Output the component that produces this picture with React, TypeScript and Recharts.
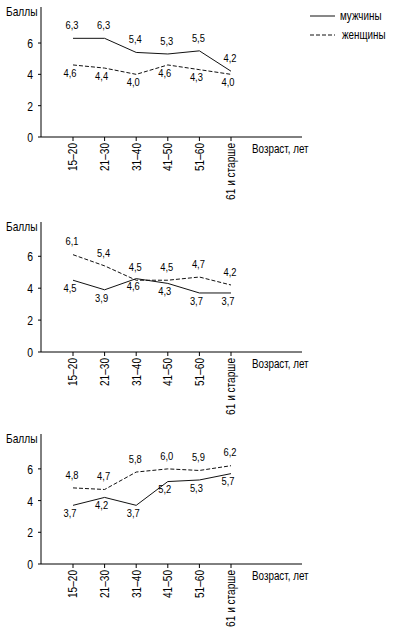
import { LineChart, Line, XAxis, YAxis, LabelList } from "recharts";

const FONT = "'Liberation Sans', Arial, sans-serif";

const ageGroups = ["15–20", "21–30", "31–40", "41–50", "51–60", "61 и старше"];
const menA = [6.3, 6.3, 5.4, 5.3, 5.5, 4.2];
const womenA = [4.6, 4.4, 4.0, 4.6, 4.3, 4.0];
const menB = [4.5, 3.9, 4.6, 4.3, 3.7, 3.7];
const womenB = [6.1, 5.4, 4.5, 4.5, 4.7, 4.2];
const menC = [3.7, 4.2, 3.7, 5.2, 5.3, 5.7];
const womenC = [4.8, 4.7, 5.8, 6.0, 5.9, 6.2];
const yTicks = [0, 2, 4, 6];

const fmt = (v: number) => v.toFixed(1).replace(".", ",");

// condensed text: the source uses a narrow face, so squeeze Liberation Sans
function NText({ x, y, anchor = "start", size = 12, sx = 0.83, rotate = false, children }: any) {
  const t = `translate(${x},${y})${rotate ? " rotate(-90)" : ""} scale(${sx},1)`;
  return (
    <text
      transform={t}
      textAnchor={anchor}
      dominantBaseline="central"
      fontSize={size}
      fill="#000"
      fontFamily={FONT}
    >
      {children}
    </text>
  );
}

const makeLabel = (above: boolean) => (props: any) => {
  const { x, y, value } = props;
  return (
    <NText x={x + (above ? -1 : -3)} y={y + (above ? -13 : 8)} anchor="middle" size={11} sx={0.85}>
      {fmt(value)}
    </NText>
  );
};

function AgeTick({ x, y, payload }: any) {
  return (
    <NText x={x} y={y} anchor="end" size={12} sx={0.84} rotate>
      {payload.value}
    </NText>
  );
}

function ScoreTick({ x, y, payload }: any) {
  return (
    <NText x={x} y={y} anchor="end" size={13} sx={0.8}>
      {payload.value}
    </NText>
  );
}

interface PanelProps {
  men: number[];
  women: number[];
  menOnTop: boolean;
  top: number;
  height: number;
  marginTop: number;
  xAxisHeight: number;
  yMax: number;
}

function Panel({ men, women, menOnTop, top, height, marginTop, xAxisHeight, yMax }: PanelProps) {
  const rows = ageGroups.map((age, i) => ({ age, men: men[i], women: women[i] }));
  return (
    <div style={{ position: "absolute", left: 0, top }}>
      <LineChart
        width={394}
        height={height}
        data={rows}
        margin={{ top: marginTop, right: 92, bottom: 0, left: 0 }}
      >
        <XAxis
          dataKey="age"
          interval={0}
          padding={{ left: 32, right: 71 }}
          height={xAxisHeight}
          tickSize={4}
          tickMargin={2}
          stroke="#000"
          tick={<AgeTick />}
          label={{
            content: ({ viewBox }: any) => (
              <NText x={viewBox.x + viewBox.width - 50} y={viewBox.y + 12} size={12} sx={0.82}>
                Возраст, лет
              </NText>
            ),
          }}
        />
        <YAxis
          width={41}
          domain={[0, yMax]}
          ticks={yTicks}
          tickSize={3}
          tickMargin={5}
          stroke="#000"
          tick={<ScoreTick />}
          label={{
            content: ({ viewBox }: any) => (
              <NText x={6} y={viewBox.y + 5} size={12} sx={0.85}>
                Баллы
              </NText>
            ),
          }}
        />
        <Line
          dataKey="men"
          stroke="#111"
          strokeWidth={1}
          dot={false}
          activeDot={false}
          isAnimationActive={false}
        >
          <LabelList dataKey="men" content={makeLabel(menOnTop)} />
        </Line>
        <Line
          dataKey="women"
          stroke="#111"
          strokeWidth={1}
          strokeDasharray="4 2"
          dot={false}
          activeDot={false}
          isAnimationActive={false}
        >
          <LabelList dataKey="women" content={makeLabel(!menOnTop)} />
        </Line>
      </LineChart>
    </div>
  );
}

function LegendBox() {
  const items = [
    { name: "мужчины", dash: undefined, y: 16, tx: 340 },
    { name: "женщины", dash: "4 2", y: 35, tx: 342 },
  ];
  return (
    <svg width={394} height={50} style={{ position: "absolute", left: 0, top: 0 }}>
      {items.map((it) => (
        <g key={it.name}>
          <line x1={310} x2={335} y1={it.y} y2={it.y} stroke="#111" strokeWidth={1} strokeDasharray={it.dash} />
          <NText x={it.tx} y={it.y} size={12} sx={0.82}>
            {it.name}
          </NText>
        </g>
      ))}
    </svg>
  );
}

export default function App() {
  return (
    <div style={{ position: "absolute", left: 0, top: 0, width: 394, height: 634, background: "#fff" }}>
      <Panel men={menA} women={womenA} menOnTop top={0} height={210} marginTop={7} xAxisHeight={73} yMax={8.3} />
      <Panel men={menB} women={womenB} menOnTop={false} top={210} height={210} marginTop={12} xAxisHeight={68} yMax={8.15} />
      <Panel men={menC} women={womenC} menOnTop={false} top={420} height={214} marginTop={14} xAxisHeight={70} yMax={8.2} />
      <LegendBox />
    </div>
  );
}
